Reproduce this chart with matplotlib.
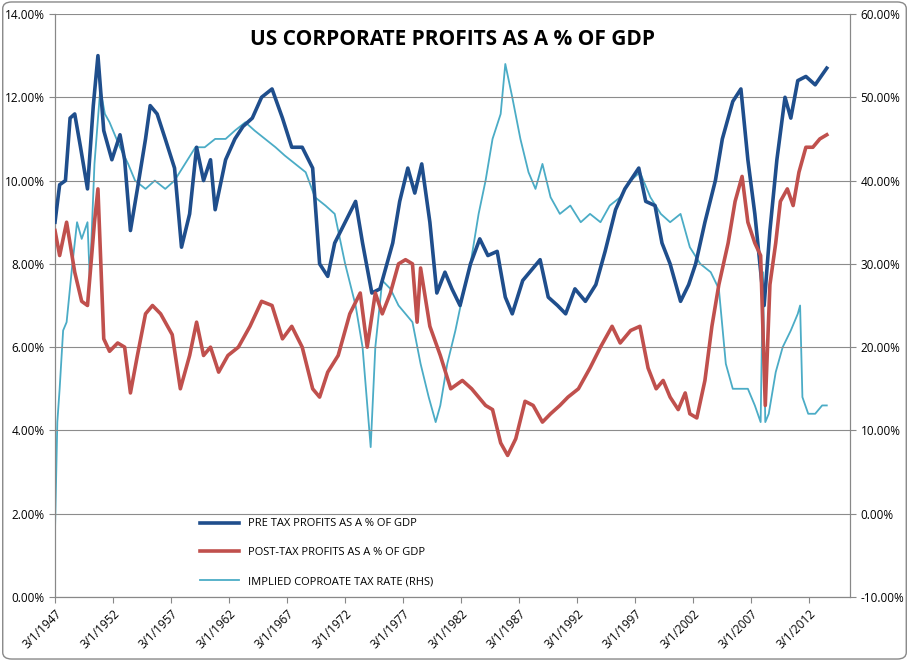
import matplotlib
matplotlib.use("Agg")
import matplotlib.pyplot as plt
from matplotlib.ticker import FuncFormatter

pre_x = [1947.0, 1947.4, 1947.9, 1948.3, 1948.7, 1949.2, 1949.8, 1950.3, 1950.7, 1951.2, 1951.9, 1952.6, 1953.0, 1953.5,
         1954.1, 1954.8, 1955.2, 1955.8, 1956.5, 1957.3, 1957.9, 1958.6, 1959.2, 1959.8, 1960.4, 1960.8, 1961.7, 1962.5,
         1963.2, 1964.0, 1964.8, 1965.7, 1966.6, 1967.4, 1968.3, 1969.2, 1969.8, 1970.5, 1971.1, 1972.0, 1972.9, 1973.5,
         1974.3, 1975.0, 1976.1, 1976.7, 1977.4, 1978.0, 1978.6, 1979.3, 1979.9, 1980.6, 1981.2, 1981.9, 1982.8, 1983.6,
         1984.3, 1985.1, 1985.8, 1986.4, 1987.3, 1987.9, 1988.8, 1989.5, 1990.3, 1991.0, 1991.8, 1992.7, 1993.6, 1994.4,
         1995.3, 1996.1, 1997.3, 1997.9, 1998.7, 1999.3, 2000.0, 2000.9, 2001.6, 2002.2, 2003.0, 2003.9, 2004.5, 2005.4,
         2006.1, 2006.7, 2007.3, 2008.1, 2008.6, 2009.2, 2009.9, 2010.4, 2011.0, 2011.7, 2012.5, 2013.5]
pre_y = [9.0, 9.9, 10.0, 11.5, 11.6, 10.8, 9.8, 11.8, 13.0, 11.2, 10.5, 11.1, 10.5, 8.8,
         9.8, 11.0, 11.8, 11.6, 11.0, 10.3, 8.4, 9.2, 10.8, 10.0, 10.5, 9.3, 10.5, 11.0,
         11.3, 11.5, 12.0, 12.2, 11.5, 10.8, 10.8, 10.3, 8.0, 7.7, 8.5, 9.0, 9.5, 8.5,
         7.3, 7.4, 8.5, 9.5, 10.3, 9.7, 10.4, 9.0, 7.3, 7.8, 7.4, 7.0, 8.0, 8.6,
         8.2, 8.3, 7.2, 6.8, 7.6, 7.8, 8.1, 7.2, 7.0, 6.8, 7.4, 7.1, 7.5, 8.3,
         9.3, 9.8, 10.3, 9.5, 9.4, 8.5, 8.0, 7.1, 7.5, 8.0, 9.0, 10.0, 11.0, 11.9,
         12.2, 10.5, 9.2, 7.0, 8.8, 10.5, 12.0, 11.5, 12.4, 12.5, 12.3, 12.7]

post_x = [1947.0, 1947.4, 1948.0, 1948.7, 1949.3, 1949.8, 1950.4, 1950.7, 1951.2, 1951.7, 1952.4, 1953.0, 1953.5, 1954.1,
          1954.8, 1955.4, 1956.1, 1957.1, 1957.8, 1958.6, 1959.2, 1959.8, 1960.4, 1961.1, 1961.9, 1962.8, 1963.8, 1964.8,
          1965.7, 1966.6, 1967.4, 1968.3, 1969.2, 1969.8, 1970.5, 1971.4, 1972.4, 1973.3, 1973.9, 1974.6, 1975.2, 1975.9,
          1976.6, 1977.2, 1977.8, 1978.2, 1978.5, 1979.3, 1980.2, 1981.1, 1982.1, 1982.9, 1984.1, 1984.7, 1985.4, 1986.0,
          1986.7, 1987.5, 1988.2, 1989.0, 1989.7, 1990.5, 1991.2, 1992.1, 1993.1, 1994.0, 1995.0, 1995.7, 1996.6, 1997.4,
          1998.1, 1998.8, 1999.4, 2000.0, 2000.7, 2001.3, 2001.7, 2002.3, 2003.0, 2003.6, 2004.2, 2005.0, 2005.6, 2006.2,
          2006.7, 2007.3, 2007.8, 2008.2, 2008.6, 2009.1, 2009.5, 2010.1, 2010.6, 2011.1, 2011.7, 2012.3, 2012.9, 2013.5]
post_y = [8.8, 8.2, 9.0, 7.8, 7.1, 7.0, 9.0, 9.8, 6.2, 5.9, 6.1, 6.0, 4.9, 5.8,
          6.8, 7.0, 6.8, 6.3, 5.0, 5.8, 6.6, 5.8, 6.0, 5.4, 5.8, 6.0, 6.5, 7.1,
          7.0, 6.2, 6.5, 6.0, 5.0, 4.8, 5.4, 5.8, 6.8, 7.3, 6.0, 7.3, 6.8, 7.3,
          8.0, 8.1, 8.0, 6.6, 7.9, 6.5, 5.8, 5.0, 5.2, 5.0, 4.6, 4.5, 3.7, 3.4,
          3.8, 4.7, 4.6, 4.2, 4.4, 4.6, 4.8, 5.0, 5.5, 6.0, 6.5, 6.1, 6.4, 6.5,
          5.5, 5.0, 5.2, 4.8, 4.5, 4.9, 4.4, 4.3, 5.2, 6.5, 7.5, 8.5, 9.5, 10.1,
          9.0, 8.5, 8.2, 4.6, 7.5, 8.5, 9.5, 9.8, 9.4, 10.2, 10.8, 10.8, 11.0, 11.1]

tax_x = [1947.0, 1947.2, 1947.4, 1947.7, 1948.0, 1948.5, 1948.9, 1949.3, 1949.8, 1950.0, 1950.4, 1950.9, 1951.3, 1951.7,
         1952.6, 1953.3, 1953.9, 1954.8, 1955.6, 1956.5, 1957.3, 1958.2, 1959.1, 1959.9, 1960.8, 1961.7, 1962.5, 1963.4,
         1964.2, 1965.1, 1966.0, 1966.8, 1967.7, 1968.6, 1969.4, 1970.3, 1971.1, 1972.0, 1972.9, 1973.5, 1974.2, 1974.6,
         1975.2, 1975.9, 1976.6, 1977.2, 1977.8, 1978.5, 1979.2, 1979.8, 1980.2, 1980.8, 1981.5, 1982.1, 1982.8, 1983.5,
         1984.1, 1984.7, 1985.4, 1985.8, 1986.4, 1987.1, 1987.8, 1988.4, 1989.0, 1989.7, 1990.5, 1991.4, 1992.3, 1993.1,
         1994.0, 1994.8, 1995.7, 1996.6, 1997.4, 1998.3, 1999.2, 2000.0, 2000.9, 2001.7, 2002.6, 2003.5, 2004.2, 2004.8,
         2005.4, 2006.1, 2006.7, 2007.3, 2007.8, 2008.0, 2008.2, 2008.5, 2009.1, 2009.7, 2010.4, 2011.0, 2011.2, 2011.4,
         2011.9, 2012.5, 2013.1, 2013.5]
tax_y = [-2, 11, 15, 22, 23, 30, 35, 33, 35, 28, 42, 51, 48, 47,
         44, 42, 40, 39, 40, 39, 40, 42, 44, 44, 45, 45, 46, 47,
         46, 45, 44, 43, 42, 41, 38, 37, 36, 30, 25, 20, 8, 20,
         28, 27, 25, 24, 23, 18, 14, 11, 13, 18, 22, 26, 30, 36,
         40, 45, 48, 54, 50, 45, 41, 39, 42, 38, 36, 37, 35, 36,
         35, 37, 38, 40, 41, 38, 36, 35, 36, 32, 30, 29, 27, 18,
         15, 15, 15, 13, 11, 29, 11, 12, 17, 20, 22, 24, 25, 14,
         12, 12, 13, 13]

tick_years = list(range(1947, 2013, 5))
tick_labels = [f"3/1/{y}" for y in tick_years]

plt.rcParams["font.family"] = ["Open Sans", "DejaVu Sans"]

fig = plt.figure(figsize=(9.09, 6.61), dpi=100)
ax = fig.add_axes([55 / 909, 64 / 661, 795 / 909, 583 / 661])
ax2 = ax.twinx()

ax.plot(pre_x, pre_y, color="#1F4E8C", lw=2.6, label="PRE TAX PROFITS AS A % OF GDP", zorder=3)
ax.plot(post_x, post_y, color="#C0504D", lw=2.6, label="POST-TAX PROFITS AS A % OF GDP", zorder=3)
ax2.plot(tax_x, tax_y, color="#4BACC6", lw=1.3, label="IMPLIED COPROATE TAX RATE (RHS)")

ax.set_xlim(1947, 2015.5)
ax.set_ylim(0, 14)
ax2.set_ylim(-10, 60)
ax.set_yticks(range(0, 15, 2))
ax2.set_yticks(range(-10, 61, 10))
ax.yaxis.set_major_formatter(FuncFormatter(lambda v, _: f"{v:.2f}%"))
ax2.yaxis.set_major_formatter(FuncFormatter(lambda v, _: f"{v:.2f}%"))
ax.grid(axis="y", color="#8C8C8C", lw=0.8)
ax.set_axisbelow(True)
ax.set_xticks(tick_years)
ax.set_xticklabels(tick_labels, rotation=45, ha="right", rotation_mode="anchor")
for a in (ax, ax2):
    a.tick_params(labelsize=8.5, color="#888888", length=4, direction="out")
    for s in ("top",):
        a.spines[s].set_visible(False)
    for s in ("left", "right", "bottom"):
        a.spines[s].set_color("#888888")
ax.set_zorder(ax2.get_zorder() + 1)
ax.patch.set_visible(False)

ax.text(0.5, 0.975, "US CORPORATE PROFITS AS A % OF GDP", transform=ax.transAxes,
        ha="center", va="top", fontsize=15, fontweight="bold")

h1, l1 = ax.get_legend_handles_labels()
h2, l2 = ax2.get_legend_handles_labels()
ax.legend(h1 + h2, l1 + l2, loc="lower left", bbox_to_anchor=(0.17, 0.0), frameon=False,
          fontsize=8, labelspacing=1.6, handlelength=3.5)

fig.patches.append(matplotlib.patches.FancyBboxPatch((0.003, 0.003), 0.994, 0.994,
                   boxstyle="round,pad=0,rounding_size=0.01", transform=fig.transFigure,
                   fill=False, edgecolor="#888888", lw=1))

fig.savefig("out.png", dpi=100)
